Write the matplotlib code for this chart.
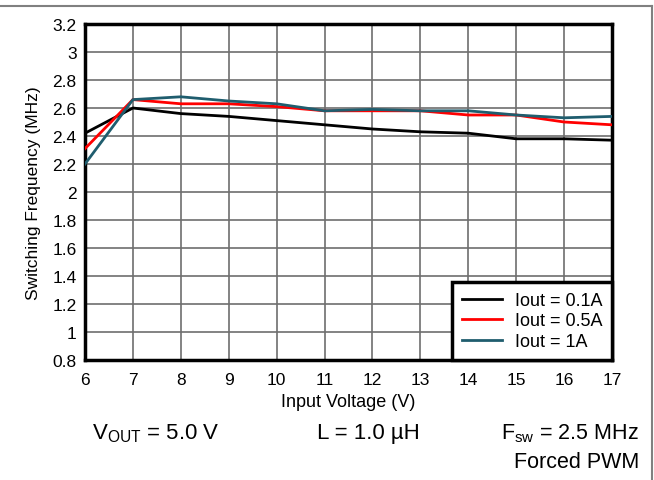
import matplotlib.pyplot as plt
from matplotlib.lines import Line2D

plt.rcParams['font.family'] = ['Liberation Sans', 'DejaVu Sans']

vin = [6, 7, 8, 9, 10, 11, 12, 13, 14, 15, 16, 17]
f_01a = [2.42, 2.60, 2.56, 2.54, 2.51, 2.48, 2.45, 2.43, 2.42, 2.38, 2.38, 2.37]
f_05a = [2.31, 2.66, 2.63, 2.63, 2.61, 2.58, 2.58, 2.58, 2.55, 2.55, 2.50, 2.48]
f_1a = [2.20, 2.66, 2.68, 2.65, 2.63, 2.58, 2.59, 2.58, 2.58, 2.55, 2.53, 2.54]

labels = ["Iout = 0.1A", "Iout = 0.5A", "Iout = 1A"]
colors = ["#000000", "#ff0000", "#1f5d6e"]

fig = plt.figure(figsize=(6.54, 4.81), dpi=100)
ax = fig.add_axes([85 / 654, 1 - 361 / 481, (612 - 85) / 654, (361 - 25) / 481])

for y, lab, c in zip([f_01a, f_05a, f_1a], labels, colors):
    ax.plot(vin, y, color=c, lw=2, label=lab, zorder=3)

ax.set_xlim(6, 17)
ax.set_ylim(0.8, 3.2)
ax.set_xticks(range(6, 18))
ax.set_yticks([0.8, 1, 1.2, 1.4, 1.6, 1.8, 2, 2.2, 2.4, 2.6, 2.8, 3, 3.2])
ax.set_yticklabels(["0.8", "1", "1.2", "1.4", "1.6", "1.8", "2", "2.2", "2.4",
                    "2.6", "2.8", "3", "3.2"])
ax.grid(True, color="#6e6e6e", lw=1.2)
ax.tick_params(length=0, labelsize=12.5)
ax.tick_params(axis="y", pad=6)
ax.tick_params(axis="x", pad=9)
for s in ax.spines.values():
    s.set_linewidth(2.5)

ax.set_xlabel("Input Voltage (V)", fontsize=13, labelpad=4)
ax.set_ylabel("Switching Frequency (MHz)", fontsize=12.5, labelpad=8)

leg = ax.legend(loc="lower right", fontsize=13, fancybox=False, framealpha=1,
                edgecolor="black", borderaxespad=0, handlelength=2.2,
                handletextpad=0.7, labelspacing=0.2, borderpad=0.55)
leg.get_frame().set_linewidth(2.5)

# notes under the chart
fig.text(92 / 654, 1 - 434 / 481, r"V$_{\mathregular{OUT}}$ = 5.0 V", fontsize=16, va="center")
fig.text(317 / 654, 1 - 434 / 481, "L = 1.0 µH", fontsize=16, va="center")
fig.text(639 / 654, 1 - 434 / 481, r"F$_{\mathregular{sw}}$ = 2.5 MHz", fontsize=15.5,
         va="center", ha="right")
fig.text(639 / 654, 1 - 463 / 481, "Forced PWM", fontsize=15.5, va="center", ha="right")

# page border lines
fig.add_artist(Line2D([0, 652 / 654], [1 - 7 / 481, 1 - 7 / 481], color="#808080", lw=1.5))
fig.add_artist(Line2D([652 / 654, 652 / 654], [0, 1 - 7 / 481], color="#808080", lw=1.5))

fig.savefig("out.png", dpi=100)
